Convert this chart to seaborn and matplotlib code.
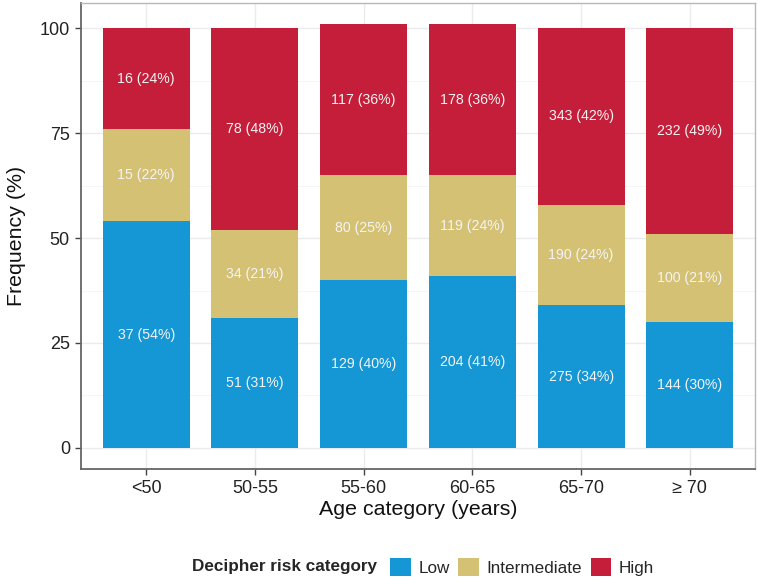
import matplotlib
matplotlib.use('Agg')
import matplotlib.pyplot as plt
from matplotlib.patches import Patch
import numpy as np
import pandas as pd
import seaborn as sns

ages = ['<50', '50-55', '55-60', '60-65', '65-70', '\u2265 70']
risk_levels = ['Low', 'Intermediate', 'High']
low_n = [37, 51, 129, 204, 275, 144]
low_pct = [54, 31, 40, 41, 34, 30]
mid_n = [15, 34, 80, 119, 190, 100]
mid_pct = [22, 21, 25, 24, 24, 21]
high_n = [16, 78, 117, 178, 343, 232]
high_pct = [24, 48, 36, 36, 42, 49]
colors = {'Low': '#1497D4', 'Intermediate': '#D4C174', 'High': '#C41E3A'}

sns.set_style('white')
plt.rcParams['font.family'] = ['Liberation Sans', 'DejaVu Sans']

dframe = pd.DataFrame({'age': ages,
                       'low': low_pct, 'mid': mid_pct, 'high': high_pct})
dframe['top_low'] = dframe['low']
dframe['top_mid'] = dframe['low'] + dframe['mid']
dframe['top_high'] = dframe['top_mid'] + dframe['high']

fig = plt.figure(figsize=(7.57, 5.81), dpi=100)
ax = fig.add_axes([81 / 757, 1 - 469 / 581, 674 / 757, 466 / 581])

# overlay cumulative bars, tallest first
for col, lvl in [('top_high', 'High'), ('top_mid', 'Intermediate'),
                 ('top_low', 'Low')]:
    sns.barplot(x='age', y=col, data=dframe, order=ages, color=colors[lvl],
                saturation=1, width=0.8, ax=ax, zorder=3, linewidth=0)

# segment labels
label_kw = dict(ha='center', va='center', color='#F4F4F4', fontsize=10.2,
                zorder=4)
for i in range(len(ages)):
    lo, mi, hi = low_pct[i], mid_pct[i], high_pct[i]
    ax.text(i, lo / 2, f'{low_n[i]} ({lo}%)', **label_kw)
    ax.text(i, lo + mi / 2, f'{mid_n[i]} ({mi}%)', **label_kw)
    ax.text(i, lo + mi + hi / 2, f'{high_n[i]} ({hi}%)', **label_kw)

ax.set_xlim(-0.6, 5.6)
ax.set_ylim(-5.05, 106.05)
ax.set_yticks([0, 25, 50, 75, 100])
ax.set_yticks([12.5, 37.5, 62.5, 87.5], minor=True)
ax.grid(True, which='major', color='#EBEBEB', linewidth=1.0, zorder=0)
ax.grid(True, which='minor', axis='y', color='#F4F4F4', linewidth=0.6,
        zorder=0)
ax.set_axisbelow(True)

for side in ['top', 'right']:
    ax.spines[side].set_color('#B8B8B8')
    ax.spines[side].set_linewidth(1.0)
for side in ['left', 'bottom']:
    ax.spines[side].set_color('#666666')
    ax.spines[side].set_linewidth(1.3)

ax.tick_params(axis='both', which='major', length=4, width=1,
               bottom=True, left=True, color='#444444', labelsize=13,
               labelcolor='#222222', pad=4)
ax.tick_params(axis='both', which='minor', length=0)
ax.set_xlabel('Age category (years)', fontsize=15.4, color='#111111',
              labelpad=2)
ax.set_ylabel('Frequency (%)', fontsize=15.4, color='#111111', labelpad=10)

# legend at bottom with title on the left
fig.text(192 / 757, 1 - 567 / 581, 'Decipher risk category',
         fontsize=12.3, fontweight='bold', va='center', ha='left')
handles = [Patch(facecolor=colors[l], edgecolor='none') for l in risk_levels]
fig.legend(handles, risk_levels, loc='center left',
           bbox_to_anchor=(385 / 757, 1 - 567 / 581), ncol=3, frameon=False,
           fontsize=12.3, handlelength=1.2, handleheight=1.2,
           handletextpad=0.45, columnspacing=0.5, borderaxespad=0,
           borderpad=0.3)

plt.savefig('out.png', dpi=100)
plt.close()
